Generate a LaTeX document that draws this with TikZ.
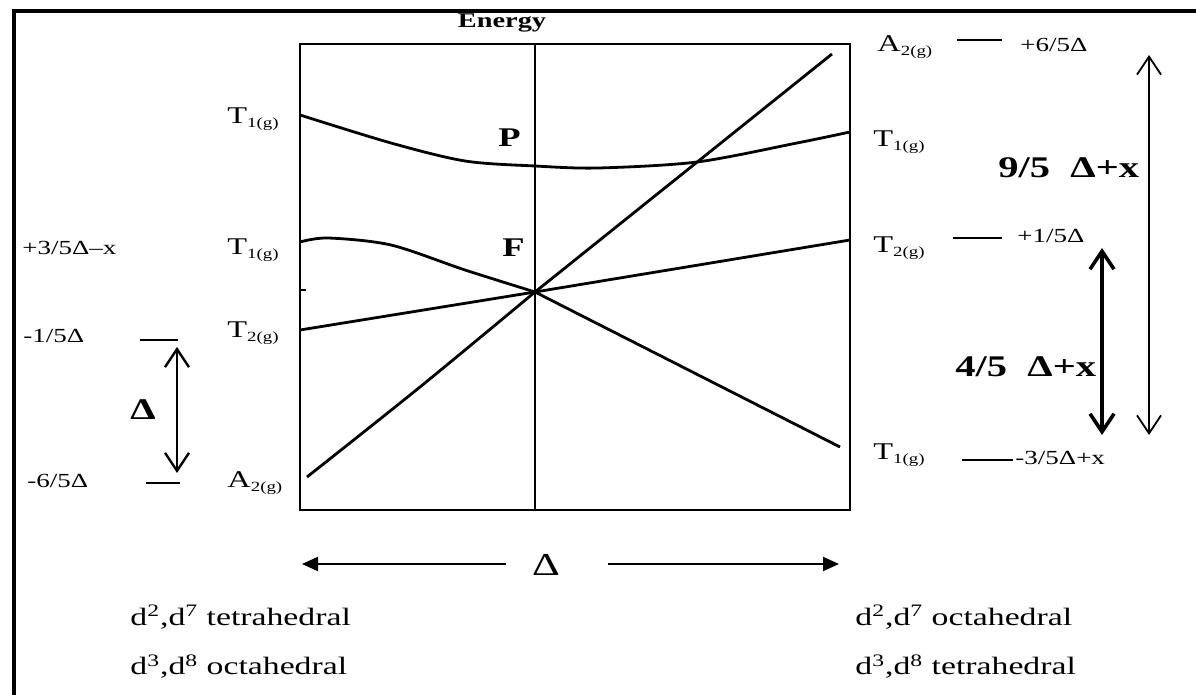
\documentclass[tikz,border=0pt]{standalone}
\usepackage{fontspec}
\setmainfont{Liberation Serif}[FakeStretch=1.35]
\usetikzlibrary{arrows.meta}
\newcommand{\lev}[2]{#1\textsubscript{\fontsize{7}{8}\selectfont #2}}

\begin{document}
\begin{tikzpicture}[x=0.5pt,y=-0.5pt,
  every node/.style={inner sep=0pt},
  term/.style={font=\fontsize{12}{14}\selectfont,anchor=base west},
  val/.style={font=\fontsize{10}{12}\selectfont,anchor=base west},
  gap/.style={font=\fontsize{15}{18}\selectfont\bfseries,anchor=base west},
  conf/.style={font=\fontsize{12.5}{15}\selectfont,anchor=base west},
  curve/.style={line width=1.4pt,line join=round},
  lvl/.style={line width=1.4pt},
  barb/.style={{Straight Barb[length=9pt,width=12pt]}-{Straight Barb[length=9pt,width=12pt]}},
  tri/.style={-{Triangle[length=8pt,width=7pt]}}]
\useasboundingbox (0,0) rectangle (1196,695);
% frame, only left and top edges are in view
\draw[line width=2.3pt] (14,720) -- (14,11) -- (1220,11);

% the box with its middle line
\draw[line width=1.4pt] (300,44) rectangle (850,510);
\draw[line width=0.8pt] (535,44) -- (535,510);
\draw[line width=1.2pt] (300,290) -- (306,290);
\node[font=\fontsize{10.5}{12}\selectfont\bfseries,anchor=base] (energy) at (502,28) {Energy};
\node[font=\fontsize{13.5}{15}\selectfont\bfseries,anchor=base west] (P) at (498,147) {P};
\node[font=\fontsize{13.5}{15}\selectfont\bfseries,anchor=base west] (F) at (502,257) {F};

% terms against Delta
\draw[curve] plot[smooth] coordinates {(300,115) (391,143) (465,161) (535,166) (598,168) (697,162) (797,143) (850,132)};
\draw[curve] plot[smooth] coordinates {(300,242) (328,238) (391,245) (465,270) (535,292)} -- (840,447);
\draw[curve] (300,330) -- (535,292) -- (850,240);
\draw[curve] plot[smooth] coordinates {(307,477) (420,387) (535,292)} -- (832,54);

% left side
\node[term] (lT1P) at (227,124) {\lev{T}{1(g)}};
\node[term] (lT1F) at (227,255) {\lev{T}{1(g)}};
\node[term] (lT2)  at (227,338) {\lev{T}{2(g)}};
\node[term] (lA2)  at (227,488) {\lev{A}{2(g)}};
\node[val] (v35) at (22,255) {+3/5Δ–x};
\node[val] (v15) at (23,343) {-1/5Δ};
\node[val] (v65) at (27,488) {-6/5Δ};
\draw[lvl] (140,340) coordinate (a1) -- (178,340) coordinate (a2);
\draw[lvl] (146,483) coordinate (b1) -- (180,483) coordinate (b2);
\coordinate (dtop) at (177,347);
\coordinate (dbot) at (177,473);
\draw[barb,line width=1.2pt] (dtop) -- (dbot);
\node[gap] (dl) at (130,420) {Δ};

% right side
\node[term] (rA2)  at (877,52)  {\lev{A}{2(g)}};
\node[term] (rT1P) at (873,147) {\lev{T}{1(g)}};
\node[term] (rT2)  at (873,253) {\lev{T}{2(g)}};
\node[term] (rT1F) at (873,460) {\lev{T}{1(g)}};
\draw[lvl] (957,40) -- (1002,40);
\draw[lvl] (953,238) -- (1002,238);
\draw[lvl] (962,460) -- (1013,460);
\node[val] (w65) at (1020,52)  {+6/5Δ};
\node[val] (w15) at (1017,243) {+1/5Δ};
\node[val] (w35) at (1015,465) {-3/5Δ+x};
\coordinate (ntop) at (1149,55);
\coordinate (nbot) at (1149,435);
\coordinate (ftop) at (1102,248);
\coordinate (fbot) at (1102,435);
\draw[barb,line width=0.9pt] (ntop) -- (nbot);
\draw[barb,line width=1.8pt] (ftop) -- (fbot);
\node[gap] (nine) at (998,178) {9/5~~Δ+x};
\node[gap] (four) at (955,377) {4/5~~Δ+x};

% Delta axis
\node[font=\fontsize{16}{18}\selectfont,anchor=base] (dlt) at (546,575) {Δ};
\coordinate (al0) at (506,564);
\coordinate (al1) at (302,564);
\coordinate (ar0) at (608,564);
\coordinate (ar1) at (839,564);
\draw[tri,line width=1pt] (al0) -- (al1);
\draw[tri,line width=1pt] (ar0) -- (ar1);

% configurations
\node[conf] (c1) at (130,625) {d\textsuperscript{2},d\textsuperscript{7} tetrahedral};
\node[conf] (c2) at (130,675) {d\textsuperscript{3},d\textsuperscript{8} octahedral};
\node[conf] (c3) at (855,625) {d\textsuperscript{2},d\textsuperscript{7} octahedral};
\node[conf] (c4) at (855,675) {d\textsuperscript{3},d\textsuperscript{8} tetrahedral};
\end{tikzpicture}
\end{document}
